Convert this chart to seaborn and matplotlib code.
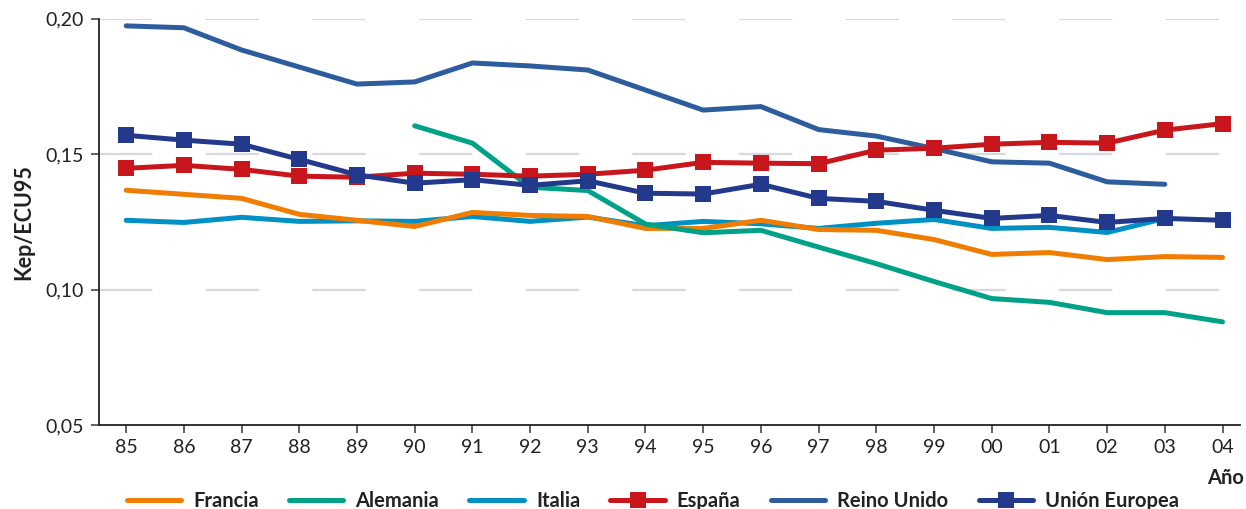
import numpy as np
import pandas as pd
import matplotlib
matplotlib.use("Agg")
import matplotlib.pyplot as plt
import seaborn as sns
from matplotlib.lines import Line2D

# Intensidad energética (Kep/ECU95), 1985-2004
years = list(range(1985, 2005))
year_labels = ["85", "86", "87", "88", "89", "90", "91", "92", "93", "94",
               "95", "96", "97", "98", "99", "00", "01", "02", "03", "04"]

francia = [0.1367, 0.1352, 0.1337, 0.1278, 0.1256, 0.1233, 0.1285, 0.1274, 0.1270, 0.1226,
           0.1226, 0.1256, 0.1222, 0.1219, 0.1185, 0.1130, 0.1137, 0.1111, 0.1122, 0.1119]
alemania = [np.nan, np.nan, np.nan, np.nan, np.nan, 0.1605, 0.1541, 0.1378, 0.1366, 0.1242,
            0.1210, 0.1219, 0.1157, 0.1096, 0.1030, 0.0967, 0.0953, 0.0915, 0.0915, 0.0881]
italia = [0.1256, 0.1248, 0.1267, 0.1252, 0.1254, 0.1252, 0.1270, 0.1252, 0.1268, 0.1236,
          0.1252, 0.1243, 0.1226, 0.1245, 0.1259, 0.1226, 0.1230, 0.1211, 0.1263, np.nan]
espana = [0.1448, 0.1459, 0.1444, 0.1419, 0.1415, 0.1430, 0.1426, 0.1419, 0.1426, 0.1441,
          0.1470, 0.1467, 0.1465, 0.1515, 0.1522, 0.1537, 0.1544, 0.1541, 0.1589, 0.1613]
reino_unido = [0.1974, 0.1967, 0.1885, 0.1822, 0.1759, 0.1767, 0.1837, 0.1826, 0.1811, 0.1737,
               0.1663, 0.1676, 0.1591, 0.1567, 0.1521, 0.1472, 0.1467, 0.1398, 0.1389, np.nan]
union_europea = [0.1570, 0.1552, 0.1537, 0.1481, 0.1424, 0.1393, 0.1406, 0.1385, 0.1402, 0.1356,
                 0.1353, 0.1389, 0.1337, 0.1326, 0.1293, 0.1263, 0.1274, 0.1248, 0.1263, 0.1256]

series = {
    "Francia": francia,
    "Alemania": alemania,
    "Italia": italia,
    "España": espana,
    "Reino Unido": reino_unido,
    "Unión Europea": union_europea,
}
colors = {
    "Francia": "#F07D00",
    "Alemania": "#00A287",
    "Italia": "#0091C4",
    "España": "#C8171C",
    "Reino Unido": "#2D5D9C",
    "Unión Europea": "#23398B",
}
with_markers = {"España", "Unión Europea"}
draw_order = ["Italia", "Francia", "Alemania", "Reino Unido", "España", "Unión Europea"]
legend_order = ["Francia", "Alemania", "Italia", "España", "Reino Unido", "Unión Europea"]

df = pd.DataFrame({"year": years, **series})
long_df = df.melt(id_vars="year", var_name="pais", value_name="kep").dropna()

sns.set_theme(style="white")
plt.rcParams["font.family"] = ["Lato", "DejaVu Sans"]

fig = plt.figure(figsize=(12.46, 5.09), dpi=100)
ax = fig.add_axes([0.0795, 0.165, 0.916, 0.798])

lw = 3.6
for name in draw_order:
    sub = long_df[long_df["pais"] == name]
    sns.lineplot(
        data=sub, x="year", y="kep", ax=ax, color=colors[name], linewidth=lw,
        marker="s" if name in with_markers else None, markersize=11,
        markeredgewidth=0, legend=False, zorder=3,
    )

ax.set_xlim(1984.53, 2004.31)
ax.set_ylim(0.05, 0.20)
ax.set_xticks(years)
ax.set_xticklabels(year_labels, fontsize=14, color="#222222")
yticks = [0.05, 0.10, 0.15, 0.20]
ax.set_yticks(yticks)
ax.set_yticklabels(["0,05", "0,10", "0,15", "0,20"], fontsize=14, color="#222222")

for v in [0.10, 0.15, 0.20]:
    ax.axhline(v, color="#D5D8DC", linewidth=1.6, dashes=(24, 24), zorder=1)

sns.despine(ax=ax, top=True, right=True)
for s in ["left", "bottom"]:
    ax.spines[s].set_color("#222222")
    ax.spines[s].set_linewidth(1.3)
ax.tick_params(axis="both", direction="out", length=6, width=1.3, color="#555555",
               bottom=True, left=True, pad=5)
ax.tick_params(axis="x", pad=4)

ax.set_xlabel("")
ax.set_ylabel("Kep/ECU95", fontsize=15.5, fontweight="bold", color="#222222", labelpad=8)
fig.text(0.998, 0.06, "Año", ha="right", va="center", fontsize=14.5,
         fontweight="bold", color="#222222")

handles = []
for name in legend_order:
    handles.append(Line2D([0], [0], color=colors[name], linewidth=lw,
                          marker="s" if name in with_markers else None,
                          markersize=11, markeredgewidth=0))
fig.legend(handles, legend_order, loc="center", bbox_to_anchor=(0.524, 0.016),
           ncol=6, frameon=False, handlelength=2.7, handletextpad=0.6,
           columnspacing=1.5, prop={"size": 14.5, "weight": "bold"},
           labelcolor="#222222", borderaxespad=0, borderpad=0)

fig.savefig("out.png", dpi=100)
